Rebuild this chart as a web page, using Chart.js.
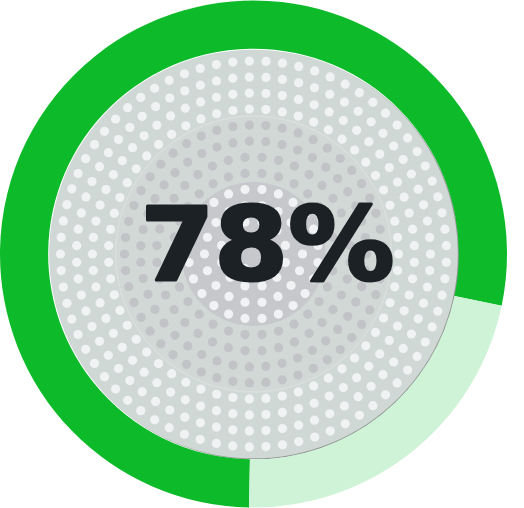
<!DOCTYPE html>
<html lang="pt-BR">
<head>
  <meta charset="UTF-8">
  <meta name="viewport" content="width=device-width, initial-scale=1">
  <title>Progresso</title>
  <script src="https://cdn.jsdelivr.net/npm/chart.js"></script>
  <style>
    body {
      margin: 0;
      background: #fff;
    }
    .container {
      position: relative;
      width: 524px;
      height: 508px;
    }
  </style>
</head>
<body>

<div class="container">
  <canvas id="graficoProgresso"></canvas>
</div>

<script>
  const rotulos = ["Concluído", "Restante"];
  const valores = [78, 22];
  const cores = ["#0dbb2a", "#cff3d7"];
  const textoCentro = "78%";

  // disco pontilhado + texto no meio da rosca
  const discoCentral = {
    id: "discoCentral",
    beforeDatasetsDraw(chart) {
      const arco = chart.getDatasetMeta(0).data[0];
      if (!arco) return;
      const { x, y, innerRadius } = arco.getProps(["x", "y", "innerRadius"], true);
      const ctx = chart.ctx;
      const raio = innerRadius - 1;

      ctx.save();
      // fundo com sombra leve à direita
      ctx.shadowColor = "rgba(60, 70, 65, 0.55)";
      ctx.shadowOffsetX = 1.5;
      ctx.shadowOffsetY = 1;
      ctx.shadowBlur = 0.5;
      ctx.fillStyle = "#d0d8d5";
      ctx.beginPath();
      ctx.arc(x, y, raio, 0, Math.PI * 2);
      ctx.fill();
      ctx.restore();

      ctx.save();
      // faixa do meio
      ctx.fillStyle = "#d2d8d6";
      ctx.strokeStyle = "#dadfdd";
      ctx.lineWidth = 1.5;
      ctx.beginPath();
      ctx.arc(x, y, 138, 0, Math.PI * 2);
      ctx.fill();
      ctx.stroke();
      // miolo
      ctx.fillStyle = "#c7c8cc";
      ctx.beginPath();
      ctx.arc(x, y, 72, 0, Math.PI * 2);
      ctx.fill();

      // anéis de pontos
      let anel = 0;
      for (let r = 17; r < raio - 5; r += 16) {
        const n = Math.round((2 * Math.PI * r) / 16.7);
        const desloc = (anel % 2) * 0.5;
        ctx.fillStyle = (r > 72 && r < 138) ? "#c1c3c6" : "#f0f2f4";
        for (let i = 0; i < n; i++) {
          const a = ((i + desloc) / n) * Math.PI * 2;
          ctx.beginPath();
          ctx.arc(x + r * Math.cos(a), y + r * Math.sin(a), 4.6, 0, Math.PI * 2);
          ctx.fill();
        }
        anel++;
      }

      // texto central
      ctx.translate(x + 14, y + 26);
      ctx.scale(1.05, 1);
      ctx.font = "bold 101px 'DejaVu Sans'";
      ctx.textAlign = "center";
      ctx.textBaseline = "alphabetic";
      ctx.fillStyle = "#1c2125";
      ctx.strokeStyle = "#1c2125";
      ctx.lineWidth = 3;
      ctx.lineJoin = "round";
      ctx.strokeText(textoCentro, 0, 0);
      ctx.fillText(textoCentro, 0, 0);
      ctx.restore();
    }
  };

  const ctx = document.getElementById("graficoProgresso").getContext("2d");

  new Chart(ctx, {
    type: "doughnut",
    data: {
      labels: rotulos,
      datasets: [{
        data: valores,
        backgroundColor: cores,
        borderWidth: 0
      }]
    },
    options: {
      responsive: true,
      maintainAspectRatio: false,
      animation: false,
      rotation: 181,
      cutout: "81%",
      layout: { padding: { right: 17 } },
      plugins: {
        legend: { display: false },
        tooltip: { enabled: false }
      }
    },
    plugins: [discoCentral]
  });
</script>

</body>
</html>
